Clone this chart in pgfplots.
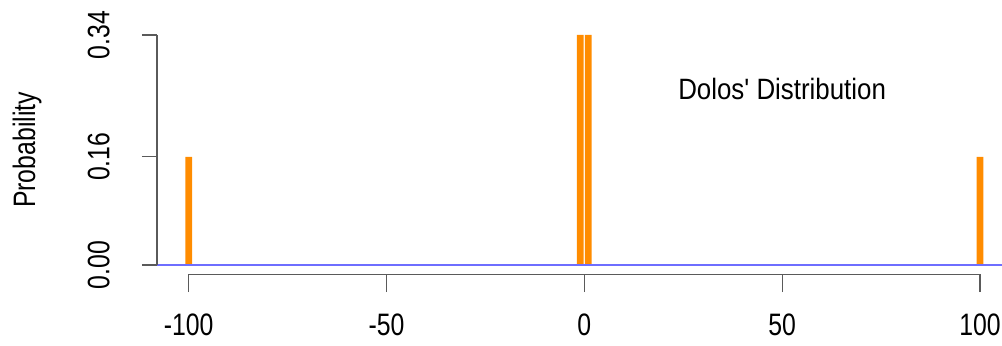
\documentclass[border=0pt]{standalone}
\usepackage{pgfplots}
\pgfplotsset{compat=1.18}
\usepackage{fontspec}
\setmainfont{Liberation Sans}
\newfontfamily\tickfont[FakeStretch=0.8]{Liberation Sans}
\newfontfamily\annfont[FakeStretch=0.88]{Liberation Sans}
\definecolor{barorange}{RGB}{255,140,0}
\definecolor{zeroblue}{RGB}{110,110,255}
\definecolor{axgray}{RGB}{90,90,90}
\begin{document}
\begin{tikzpicture}
\useasboundingbox (-78.5pt,-35.9pt) rectangle (422.5pt,137.1pt);
\begin{axis}[
  at={(0,0)}, anchor=south west,
  scale only axis,
  width=427.3pt, height=124.2pt,
  xmin=-108, xmax=108,
  ymin=-0.0136, ymax=0.3536,
  axis lines*=left,
  axis line style={draw=none},
  tick align=outside,
  xtick={-100,-50,0,50,100},
  xticklabels={-100,-50,0,50,100},
  ytick={0,0.16,0.34},
  yticklabels={0.00,0.16,0.34},
  xtick style={draw=axgray, line width=0.6pt, /pgfplots/major tick length=9pt},
  ytick style={draw=axgray, line width=0.6pt, /pgfplots/major tick length=7.5pt},
  xticklabel style={font=\tickfont\fontsize{15.5pt}{18pt}\selectfont, anchor=base, yshift=-26.5pt},
  yticklabel style={font=\tickfont\fontsize{15.5pt}{18pt}\selectfont, xshift=-19.5pt, rotate=90, anchor=base},
  ylabel={Probability},
  ylabel style={font=\tickfont\fontsize{15.5pt}{18pt}\selectfont, at={(axis description cs:-0.152,0.5)}, anchor=center},
  ybar, bar width=1.7,
  clip=false,
]
\addplot[ybar, fill=barorange, draw=none] coordinates {(-100,0.16) (-1,0.34) (1,0.34) (100,0.16)};
\addplot[sharp plot, zeroblue, line width=0.6pt] coordinates {(-108,0) (110,0)};
\draw[axgray, line width=0.6pt] (axis cs:-108,0) -- (axis cs:-108,0.34);
\draw[axgray, line width=0.6pt] (axis cs:-100,-0.0136) -- (axis cs:100,-0.0136);
\node[anchor=base, font=\annfont\fontsize{14.7pt}{17pt}\selectfont] at (axis cs:50,0.245) {Dolos' Distribution};
\end{axis}
\end{tikzpicture}
\end{document}
